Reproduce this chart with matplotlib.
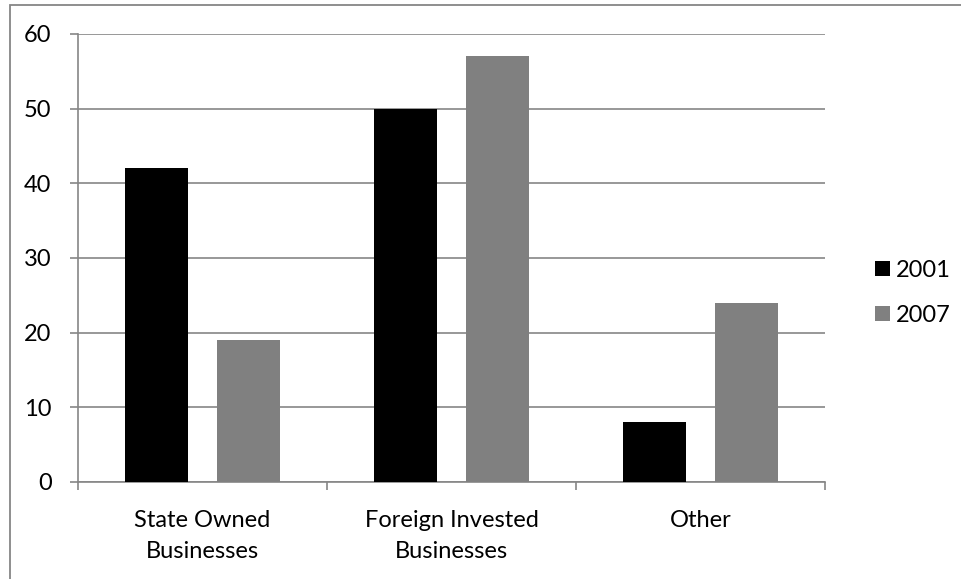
import matplotlib
matplotlib.use("Agg")
import matplotlib.pyplot as plt
from matplotlib.patches import Rectangle

categories = ["State Owned\nBusinesses", "Foreign Invested\nBusinesses", "Other"]
years = ["2001", "2007"]
vals_2001 = [42, 50, 8]
vals_2007 = [19, 57, 24]
colors = ["#000000", "#808080"]

GRID = "#868686"
FS = 17
plt.rcParams["font.family"] = ["Lato", "DejaVu Sans"]

fig = plt.figure(figsize=(9.61, 5.79), dpi=100)
fig.patch.set_facecolor("white")

# chart frame: only the left and top edges fall inside the canvas
fig.add_artist(Rectangle((9.5 / 961, -0.2), 1.2, 1.2 - 4.5 / 579, transform=fig.transFigure,
                         fill=False, edgecolor=GRID, lw=1.3))

ax = fig.add_axes([78 / 961, 1 - 482 / 579, (825 - 78) / 961, (482 - 34) / 579])
xs = range(len(categories))
bw = 0.25
off = 0.185
ax.bar([x - off for x in xs], vals_2001, bw, color=colors[0], label=years[0], zorder=3)
ax.bar([x + off for x in xs], vals_2007, bw, color=colors[1], label=years[1], zorder=3)

ax.set_xlim(-0.5, 2.5)
ax.set_ylim(0, 60)
ax.set_yticks(range(0, 61, 10))
ax.yaxis.grid(True, color=GRID, lw=1.2, zorder=0)
ax.set_axisbelow(True)

ax.set_xticks(list(xs))
ax.set_xticklabels(categories, fontsize=FS, linespacing=1.6)
ax.set_xticks([-0.5, 0.5, 1.5, 2.5], minor=True)
ax.tick_params(axis="x", which="major", length=0, pad=20)
ax.tick_params(axis="x", which="minor", length=6, width=1.2, color=GRID, direction="out")
ax.tick_params(axis="y", length=6, width=1.2, color=GRID, direction="out", pad=13, labelsize=FS)

for s in ["top", "right"]:
    ax.spines[s].set_visible(False)
for s in ["left", "bottom"]:
    ax.spines[s].set_color(GRID)
    ax.spines[s].set_linewidth(1.2)

fig.legend(loc="center left", bbox_to_anchor=(866 / 961, 1 - 293 / 579), frameon=False,
           fontsize=FS, handlelength=0.6, handleheight=0.6, handletextpad=0.25,
           labelspacing=1.0, borderaxespad=0)

fig.savefig("out.png", dpi=100, facecolor="white")
